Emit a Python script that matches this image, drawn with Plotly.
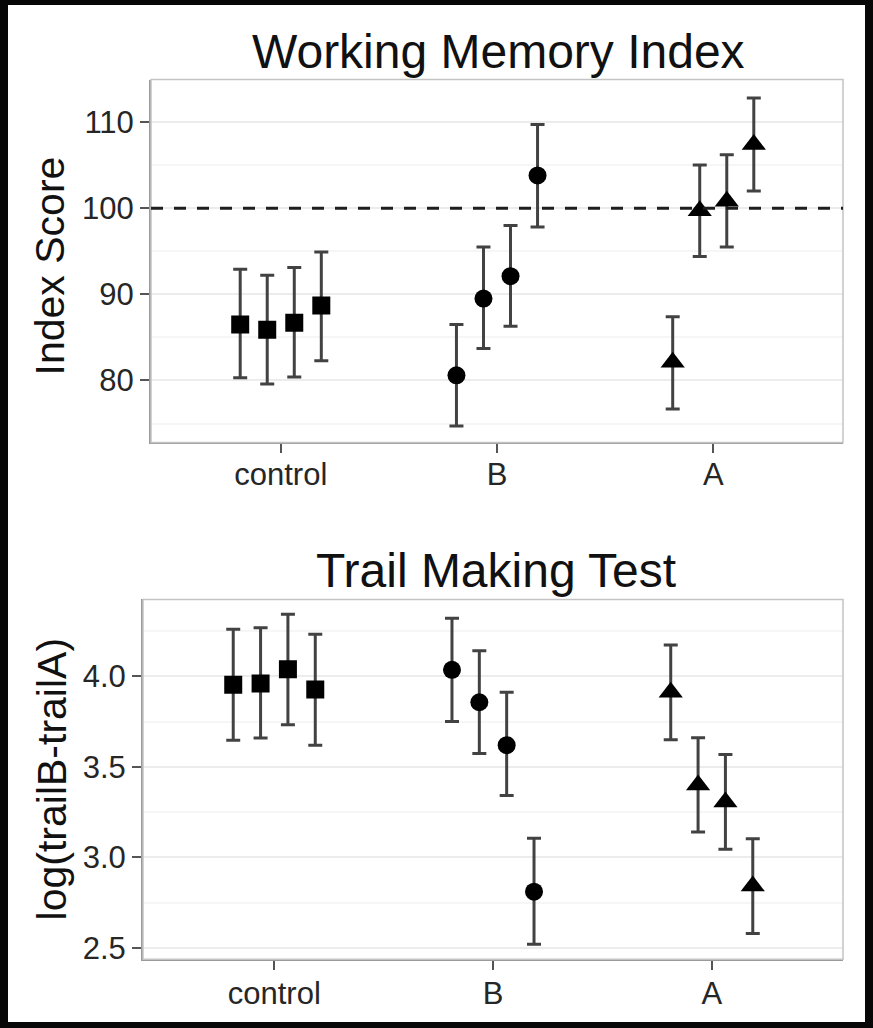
import numpy as np
import plotly.graph_objects as go

W, H = 873, 1028

# ---------------- data ----------------
categories = ["control", "B", "A"]
symbols = ["square", "circle", "triangle-up"]
n_groups = 4
dodge_width = 0.5

# Working Memory Index (mean, lower, upper)
wmi_mean = {
    "control": [86.5, 85.9, 86.7, 88.7],
    "B": [80.6, 89.5, 92.1, 103.8],
    "A": [82.1, 99.7, 100.8, 107.4],
}
wmi_lo = {
    "control": [80.3, 79.6, 80.4, 82.3],
    "B": [74.7, 83.7, 86.3, 97.8],
    "A": [76.7, 94.4, 95.5, 102.0],
}
wmi_hi = {
    "control": [92.9, 92.2, 93.1, 94.9],
    "B": [86.5, 95.5, 98.0, 109.7],
    "A": [87.4, 105.0, 106.2, 112.8],
}

# Trail Making Test log(trailB-trailA) (mean, lower, upper)
tmt_mean = {
    "control": [3.954, 3.960, 4.040, 3.927],
    "B": [4.036, 3.857, 3.620, 2.810],
    "A": [3.912, 3.400, 3.306, 2.841],
}
tmt_lo = {
    "control": [3.647, 3.659, 3.733, 3.619],
    "B": [3.751, 3.574, 3.341, 2.520],
    "A": [3.650, 3.140, 3.045, 2.579],
}
tmt_hi = {
    "control": [4.260, 4.269, 4.343, 4.233],
    "B": [4.321, 4.141, 3.912, 3.106],
    "A": [4.174, 3.661, 3.568, 3.103],
}

wmi_ticks = [80, 90, 100, 110]
tmt_ticks = [2.5, 3.0, 3.5, 4.0]
reference_score = 100

FONT = "Liberation Sans, Arial, Helvetica, sans-serif"

# dodge offsets like ggplot position_dodge(width=0.5)
step = dodge_width / n_groups
offsets = (np.arange(n_groups) - (n_groups - 1) / 2) * step


def px_x(p):
    return p / W


def px_y(p):
    return 1 - p / H


fig = go.Figure()


def add_panel(mean, lo, hi, xa, ya):
    for ci, cat in enumerate(categories):
        m = np.array(mean[cat])
        l = np.array(lo[cat])
        h = np.array(hi[cat])
        xs = (ci + 1) + offsets
        fig.add_trace(go.Scatter(
            x=xs, y=m, mode="markers",
            xaxis=xa, yaxis=ya, showlegend=False,
            marker=dict(symbol=symbols[ci], color="black",
                        size=21 if symbols[ci] == "triangle-up" else 18,
                        line=dict(width=0)),
            error_y=dict(type="data", symmetric=False, array=h - m,
                         arrayminus=m - l, color="#424242",
                         thickness=3, width=7),
        ))


add_panel(wmi_mean, wmi_lo, wmi_hi, "x", "y")
add_panel(tmt_mean, tmt_lo, tmt_hi, "x2", "y2")

axis_common = dict(
    showline=True, linecolor="#9a9a9a", linewidth=2, mirror=False,
    ticks="outside", ticklen=9, tickwidth=2, tickcolor="#555555",
    tickfont=dict(family=FONT, size=31, color="#262626"),
    zeroline=False,
)

fig.update_layout(
    width=W, height=H,
    margin=dict(l=0, r=0, t=0, b=0),
    paper_bgcolor="#070707",
    plot_bgcolor="white",
    showlegend=False,
    xaxis=dict(domain=[px_x(151), px_x(843)], range=[0.4, 3.6],
               tickvals=[1, 2, 3], ticktext=categories, showgrid=False,
               anchor="y", ticklabelstandoff=-6, **axis_common),
    yaxis=dict(domain=[px_y(445), px_y(80)], range=[72.81, 114.93],
               tickvals=wmi_ticks, showgrid=True, gridcolor="#ececec",
               gridwidth=2, anchor="x",
               minor=dict(dtick=5, tick0=0, showgrid=True,
                          gridcolor="#f6f6f6", gridwidth=2, ticks=""),
               **axis_common),
    xaxis2=dict(domain=[px_x(143), px_x(843)], range=[0.4, 3.6],
                tickvals=[1, 2, 3], ticktext=categories, showgrid=False,
                anchor="y2", ticklabelstandoff=-4, **axis_common),
    yaxis2=dict(domain=[px_y(965), px_y(603)], range=[2.436, 4.425],
                tickvals=tmt_ticks, ticktext=["2.5", "3.0", "3.5", "4.0"],
                showgrid=True, gridcolor="#ececec", gridwidth=2, anchor="x2",
                minor=dict(dtick=0.25, tick0=0, showgrid=True,
                           gridcolor="#f6f6f6", gridwidth=2, ticks=""),
                **axis_common),
)

shapes = [
    # white figure area over black border
    dict(type="rect", xref="paper", yref="paper",
         x0=px_x(8), x1=px_x(865), y0=0, y1=px_y(5),
         fillcolor="white", line=dict(width=0), layer="below"),
    # panel borders
    dict(type="rect", xref="x domain", yref="y domain", x0=0, x1=1, y0=0, y1=1,
         line=dict(color="#c4c4c4", width=1.5), layer="above"),
    dict(type="rect", xref="x2 domain", yref="y2 domain", x0=0, x1=1, y0=0, y1=1,
         line=dict(color="#c4c4c4", width=1.5), layer="above"),
    # reference line
    dict(type="line", xref="x domain", yref="y", x0=0, x1=1,
         y0=reference_score, y1=reference_score,
         line=dict(color="#1e1e1e", width=3, dash="12px,11px"),
         layer="above"),
]
fig.update_layout(shapes=shapes)

annotations = [
    dict(text="Working Memory Index", x=px_x(498), y=px_y(52),
         xref="paper", yref="paper", showarrow=False,
         xanchor="center", yanchor="middle",
         font=dict(family=FONT, size=48, color="#111111")),
    dict(text="Trail Making Test", x=px_x(496), y=px_y(574),
         xref="paper", yref="paper", showarrow=False,
         xanchor="center", yanchor="middle",
         font=dict(family=FONT, size=48, color="#111111")),
    dict(text="Index Score", x=px_x(50), y=px_y(268),
         xref="paper", yref="paper", showarrow=False, textangle=-90,
         xanchor="center", yanchor="middle",
         font=dict(family=FONT, size=41, color="#111111")),
    dict(text="log(trailB-trailA)", x=px_x(52), y=px_y(784),
         xref="paper", yref="paper", showarrow=False, textangle=-90,
         xanchor="center", yanchor="middle",
         font=dict(family=FONT, size=41, color="#111111")),
]
fig.update_layout(annotations=annotations)

fig.write_html("out.html")
